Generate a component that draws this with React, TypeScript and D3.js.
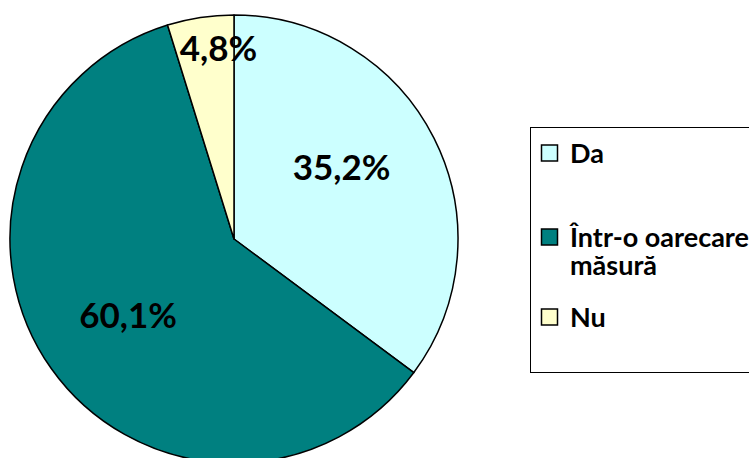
import * as d3 from "d3";

const categories = ["Da", "Într-o oarecare măsură", "Nu"];
const values = [35.2, 60.1, 4.8];
const labels = ["35,2%", "60,1%", "4,8%"];
const legendLines = [["Da"], ["Într-o oarecare", "măsură"], ["Nu"]];
const colors = ["#CCFFFF", "#008080", "#FFFFCC"];

const WIDTH = 749;
const HEIGHT = 458;
const CX = 234;
const CY = 239;
const R = 224;
const FONT = "Lato, 'Open Sans', sans-serif";

// label radius factor per slice (small slice label is pushed outward)
const LABEL_R = [0.58, 0.58, 0.86];
const LABEL_DA = [-0.13, 0, 0.07];

const LEGEND = { x: 530, y: 127, w: 240, h: 245 };
const LEGEND_ROW_Y = [153, 237, 317];

export default function App() {
  const pie = d3
    .pie<number>()
    .sort(null)
    .value((d) => d);
  const arcs = pie(values);
  const arc = d3.arc<d3.PieArcDatum<number>>().innerRadius(0).outerRadius(R);

  return (
    <svg
      width={WIDTH}
      height={HEIGHT}
      style={{ position: "absolute", left: 0, top: 0, background: "#fff" }}
    >
      <g transform={`translate(${CX},${CY})`}>
        {arcs.map((a, i) => (
          <path
            key={categories[i]}
            d={arc(a) ?? ""}
            fill={colors[i]}
            stroke="#000"
            strokeWidth={1.5}
            strokeLinejoin="round"
          />
        ))}
        {arcs.map((a, i) => {
          const mid = (a.startAngle + a.endAngle) / 2 + LABEL_DA[i];
          const r = R * LABEL_R[i];
          const x = Math.sin(mid) * r;
          const y = -Math.cos(mid) * r;
          return (
            <text
              key={labels[i]}
              x={x}
              y={y}
              textAnchor="middle"
              dominantBaseline="central"
              fontFamily={FONT}
              fontWeight="bold"
              fontSize={35}
              fill="#000"
            >
              {labels[i]}
            </text>
          );
        })}
      </g>
      <rect
        x={LEGEND.x + 0.5}
        y={LEGEND.y + 0.5}
        width={LEGEND.w}
        height={LEGEND.h}
        fill="#fff"
        stroke="#000"
        strokeWidth={1}
      />
      {categories.map((c, i) => (
        <g key={c} transform={`translate(${LEGEND.x + 11},${LEGEND_ROW_Y[i]})`}>
          <rect x={0.5} y={-8} width={16} height={16} fill={colors[i]} stroke="#000" strokeWidth={1.5} />
          <text
            x={29}
            y={10}
            fontFamily={FONT}
            fontWeight="bold"
            fontSize={27}
            fill="#000"
          >
            {legendLines[i].map((line, j) => (
              <tspan key={j} x={29} dy={j === 0 ? 0 : 28}>
                {line}
              </tspan>
            ))}
          </text>
        </g>
      ))}
    </svg>
  );
}
